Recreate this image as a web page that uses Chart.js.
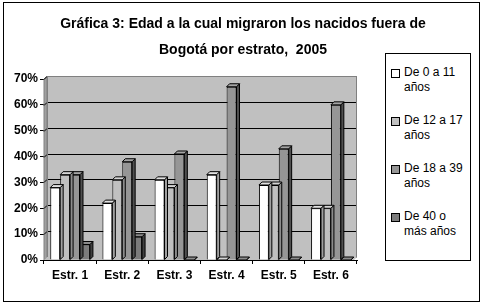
<!DOCTYPE html>
<html>
<head>
<meta charset="utf-8">
<script src="https://cdn.jsdelivr.net/npm/chart.js@4.4.1/dist/chart.umd.min.js"></script>
<style>
  body { margin: 0; background: #fff; }
  #wrap { position: relative; width: 484px; height: 305px; font-family: Arial, "Liberation Sans", sans-serif; }
  #frame { position: absolute; left: 3px; top: 2px; width: 475px; height: 298px; border: 1px solid #000; }
  #title { position: absolute; left: 0; top: 10px; width: 486px; text-align: center; font-weight: bold; font-size: 14px; line-height: 26px; }
  #legend { position: absolute; left: 385px; top: 53px; width: 84px; height: 206px; border: 1px solid #000; background: #fff; font-size: 12px; }
  .item { position: absolute; left: 4px; line-height: 15px; padding-left: 14px; }
  .sw { position: absolute; left: 1px; top: 4px; width: 7px; height: 7px; border: 1px solid #000; }
  canvas { position: absolute; left: 0; top: 0; }
</style>
</head>
<body>
<div id="wrap">
  <div id="frame"></div>
  <canvas id="bars" width="484" height="305"></canvas>
  <div id="title">Gráfica 3: Edad a la cual migraron los nacidos fuera de<br>Bogotá por estrato,&nbsp; 2005</div>
  <div id="legend"></div>
</div>
<script>
const categories = ["Estr. 1", "Estr. 2", "Estr. 3", "Estr. 4", "Estr. 5", "Estr. 6"];
const seriesNames = [["De 0 a 11", "años"], ["De 12 a 17", "años"], ["De 18 a 39", "años"], ["De 40 o", "más años"]];
const age0to11 = [28, 22, 31, 33, 29, 20];
const age12to17 = [33, 31, 28, 0, 29, 20];
const age18to39 = [33, 38, 41, 67, 43, 60];
const age40plus = [6, 9, 0, 0, 0, 0];
const yTicks = [0, 10, 20, 30, 40, 50, 60, 70];

const fills = ["#ffffff", "#c0c0c0", "#969696", "#7c7c7c"];
const sides = ["#a0a0a0", "#8c8c8c", "#505050", "#404040"];
const tops = ["#e0e0e0", "#d4d4d4", "#a4a4a4", "#8c8c8c"];
const depth = 3;

// html legend
const legendBox = document.getElementById("legend");
seriesNames.forEach((lines, i) => {
  const d = document.createElement("div");
  d.className = "item";
  d.style.top = (11 + i * 48) + "px";
  d.innerHTML = '<span class="sw" style="background:' + fills[i] + '"></span>' + lines.join("<br>");
  legendBox.appendChild(d);
});

// back wall with gridlines, then 3d faces on each bar
const threeD = {
  id: "threeD",
  beforeDatasetsDraw(chart) {
    const {ctx, chartArea: a, scales: {y}} = chart;
    ctx.save();
    ctx.fillStyle = "#c0c0c0";
    ctx.fillRect(a.left + depth, a.top - depth, a.right - a.left - depth, a.bottom - a.top);
    ctx.fillStyle = "#a0a0a0";
    ctx.beginPath();
    ctx.moveTo(a.left, a.top);
    ctx.lineTo(a.left + depth, a.top - depth);
    ctx.lineTo(a.left + depth, a.bottom - depth);
    ctx.lineTo(a.left, a.bottom);
    ctx.closePath();
    ctx.fill();
    ctx.strokeStyle = "#808080";
    ctx.stroke();
    ctx.strokeStyle = "#000";
    ctx.lineWidth = 1;
    yTicks.forEach(v => {
      if (v === 0) return;
      const py = Math.round(y.getPixelForValue(v)) - depth + 0.5;
      ctx.beginPath();
      ctx.moveTo(a.left + depth, py);
      ctx.lineTo(a.right, py);
      ctx.stroke();
      ctx.beginPath();
      ctx.moveTo(a.left, py + depth);
      ctx.lineTo(a.left + depth, py);
      ctx.stroke();
    });
    ctx.strokeStyle = "#808080";
    ctx.strokeRect(a.left + depth + 0.5, a.top - depth + 0.5, a.right - a.left - depth - 1, a.bottom - a.top);
    // floor
    ctx.fillStyle = "#c0c0c0";
    ctx.beginPath();
    ctx.moveTo(a.left, a.bottom);
    ctx.lineTo(a.left + depth, a.bottom - depth);
    ctx.lineTo(a.right, a.bottom - depth);
    ctx.lineTo(a.right - depth, a.bottom);
    ctx.closePath();
    ctx.fill();
    ctx.restore();
  },
  afterDatasetDraw(chart, args) {
    const {ctx} = chart;
    const i = args.index;
    ctx.save();
    ctx.lineWidth = 1;
    ctx.strokeStyle = "#000";
    args.meta.data.forEach(bar => {
      const {x, y, base, width} = bar.getProps(["x", "y", "base", "width"], true);
      const l = x - width / 2, r = x + width / 2;
      ctx.fillStyle = sides[i];
      ctx.beginPath();
      ctx.moveTo(r, y);
      ctx.lineTo(r + depth, y - depth);
      ctx.lineTo(r + depth, base - depth);
      ctx.lineTo(r, base);
      ctx.closePath();
      ctx.fill();
      ctx.stroke();
      ctx.fillStyle = tops[i];
      ctx.beginPath();
      ctx.moveTo(l, y);
      ctx.lineTo(l + depth, y - depth);
      ctx.lineTo(r + depth, y - depth);
      ctx.lineTo(r, y);
      ctx.closePath();
      ctx.fill();
      ctx.stroke();
    });
    ctx.restore();
  }
};

const datasets = [age0to11, age12to17, age18to39, age40plus].map((vals, i) => ({
  label: seriesNames[i].join(" "),
  data: vals,
  backgroundColor: fills[i],
  borderColor: "#000",
  borderWidth: 1,
  barPercentage: 1,
  categoryPercentage: 0.76
}));

new Chart(document.getElementById("bars"), {
  type: "bar",
  data: { labels: categories, datasets: datasets },
  options: {
    responsive: false,
    animation: false,
    layout: { padding: { top: 79, right: 127, bottom: 20, left: 4 } },
    plugins: { legend: { display: false }, title: { display: false }, tooltip: { enabled: false } },
    scales: {
      x: {
        afterFit(scale) { scale.height = 25; },
        grid: { drawOnChartArea: false, tickLength: 4, color: "#000", offset: true },
        border: { color: "#000" },
        ticks: { color: "#000", font: { family: "Arial, 'Liberation Sans'", size: 12, weight: "bold" }, padding: 4 }
      },
      y: {
        min: 0,
        max: 70,
        afterFit(scale) { scale.width = 40; },
        grid: { drawOnChartArea: false, tickLength: 4, color: "#000" },
        border: { color: "#000" },
        ticks: {
          stepSize: 10,
          color: "#000",
          padding: 2,
          font: { family: "Arial, 'Liberation Sans'", size: 12, weight: "bold" },
          callback: v => v + "%"
        }
      }
    }
  },
  plugins: [threeD]
});
</script>
</body>
</html>
